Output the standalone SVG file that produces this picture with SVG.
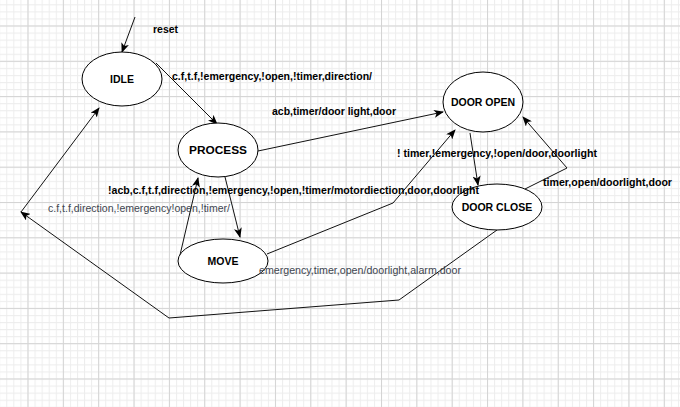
<svg xmlns="http://www.w3.org/2000/svg" width="680" height="407" viewBox="0 0 680 407">
<defs>
<pattern id="minor" patternUnits="userSpaceOnUse" x="27.5" y="25.5" width="7.07" height="7.06">
<path d="M0,0.5 H7.07 M0.5,0 V7.06" stroke="#ededed" stroke-width="1" fill="none"/>
</pattern>
<pattern id="major" patternUnits="userSpaceOnUse" x="27.5" y="25.5" width="35.35" height="35.3">
<path d="M0,0.5 H35.35 M0.5,0 V35.3" stroke="#d4d4d4" stroke-width="1" fill="none"/>
</pattern>
<marker id="arr" viewBox="0 0 10 8" refX="9" refY="4" markerWidth="10" markerHeight="8" orient="auto" markerUnits="userSpaceOnUse">
<path d="M0,0 L10,4 L0,8 L2.5,4 z" fill="#000"/>
</marker>
<style>
.node ellipse{fill:#fff;stroke:#000;stroke-width:1}
.nl{font-family:"Liberation Sans",Arial,sans-serif;font-weight:bold;font-size:10.5px;fill:#000;text-anchor:middle}
.lb{font-family:"Liberation Sans",Arial,sans-serif;font-weight:bold;font-size:10.5px;fill:#000}
.lg{font-family:"Liberation Sans",Arial,sans-serif;font-size:10.5px;fill:#3e4650}
.edge{fill:none;stroke:#111;stroke-width:1}
</style>
</defs>
<rect width="680" height="407" fill="#fff"/>
<rect width="680" height="407" fill="url(#minor)"/>
<rect width="680" height="407" fill="url(#major)"/>

<g id="connectors">
<line class="edge" x1="135" y1="17" x2="122" y2="52" marker-end="url(#arr)"/>
<line class="edge" x1="156" y1="63" x2="217" y2="124" marker-end="url(#arr)"/>
<line class="edge" x1="258" y1="151" x2="443" y2="112" marker-end="url(#arr)"/>
<line class="edge" x1="225" y1="177" x2="240" y2="237" marker-end="url(#arr)"/>
<line class="edge" x1="180" y1="255" x2="198" y2="178" marker-end="url(#arr)"/>
<polyline class="edge" points="267,254 393,203 455,130" marker-end="url(#arr)"/>
<line class="edge" x1="470" y1="133" x2="478" y2="185" marker-end="url(#arr)"/>
<polyline class="edge" points="525,189 567,168 523,117" marker-end="url(#arr)"/>
<polyline class="edge" points="497,230 399,300 169,318 21,212" marker-end="url(#arr)"/>
<line class="edge" x1="21" y1="212" x2="99" y2="108" marker-end="url(#arr)"/>
</g>

<g id="idle" class="node">
<ellipse cx="122" cy="79" rx="40" ry="27"/>
<text class="nl" x="122" y="83">IDLE</text>
</g>
<g id="process" class="node">
<ellipse cx="218" cy="150" rx="40" ry="27"/>
<text class="nl" x="218" y="154" textLength="58" lengthAdjust="spacingAndGlyphs">PROCESS</text>
</g>
<g id="move" class="node">
<ellipse cx="223" cy="261" rx="45" ry="22"/>
<text class="nl" x="223" y="265">MOVE</text>
</g>
<g id="door-open" class="node">
<ellipse cx="483" cy="102" rx="40" ry="30"/>
<text class="nl" x="483" y="106">DOOR OPEN</text>
</g>
<g id="door-close" class="node">
<ellipse cx="497" cy="207" rx="45" ry="23"/>
<text class="nl" x="497" y="211">DOOR CLOSE</text>
</g>

<g id="labels">
<text class="lb" x="153" y="33">reset</text>
<text class="lb" x="172" y="80" textLength="200" lengthAdjust="spacingAndGlyphs">c.f,t.f,!emergency,!open,!timer,direction/</text>
<text class="lb" x="272" y="115" textLength="124" lengthAdjust="spacingAndGlyphs">acb,timer/door light,door</text>
<text class="lb" x="108" y="194" textLength="371" lengthAdjust="spacingAndGlyphs">!acb,c.f,t.f,direction,!emergency,!open,!timer/motordiection,door,doorlight</text>
<text class="lg" x="48" y="212" textLength="182" lengthAdjust="spacingAndGlyphs">c.f,t.f,direction,!emergency!open,!timer/</text>
<text class="lg" x="259" y="274" textLength="202" lengthAdjust="spacingAndGlyphs">emergency,timer,open/doorlight,alarm,door</text>
<text class="lb" x="397" y="157" textLength="200" lengthAdjust="spacingAndGlyphs">! timer,!emergency,!open/door,doorlight</text>
<text class="lb" x="543" y="186" textLength="129" lengthAdjust="spacingAndGlyphs">timer,open/doorlight,door</text>
</g>
</svg>
